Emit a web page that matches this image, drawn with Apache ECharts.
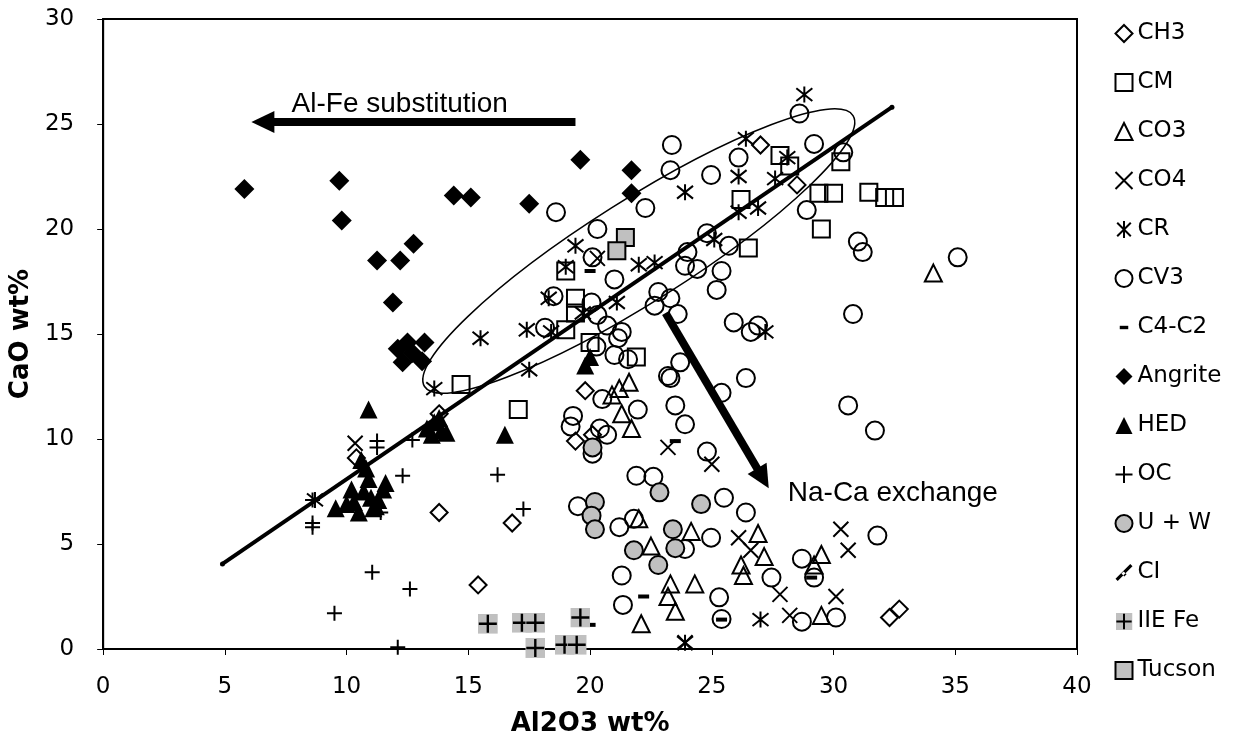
<!DOCTYPE html>
<html>
<head>
<meta charset="utf-8">
<script src="https://cdn.jsdelivr.net/npm/echarts@6/dist/echarts.min.js"></script>
<style>
html, body { margin: 0; padding: 0; background: #fff; }
#chart { width: 1235px; height: 742px; }
</style>
</head>
<body>
<div id="chart"></div>
<script>
// values: [Al2O3 wt%, CaO wt%]
var xTicks = [0, 5, 10, 15, 20, 25, 30, 35, 40];
var yTicks = [0, 5, 10, 15, 20, 25, 30];

var ch3 = [[10.4, 9.1], [13.8, 11.2], [13.8, 6.5], [15.4, 3.05], [16.8, 6.0], [19.4, 9.9], [19.8, 12.3],
    [20.1, 10.2], [27.0, 24.0], [28.5, 22.1], [32.3, 1.5], [32.7, 1.9]];
var cm = [[14.7, 12.6], [17.05, 11.4], [19.0, 18.0], [19.4, 16.7], [19.4, 16.0], [19.0, 15.2], [20.0, 14.6],
    [21.9, 13.9], [26.2, 21.4], [26.5, 19.1], [27.8, 23.5], [28.2, 23.0], [29.4, 21.7], [29.5, 20.0],
    [30.0, 21.7], [30.3, 23.2], [31.45, 21.75], [32.1, 21.5], [32.5, 21.5]];
var co3 = [[20.9, 12.1], [21.2, 12.4], [21.6, 12.7], [21.3, 11.2], [21.7, 10.5], [22.0, 6.2], [22.5, 4.9],
    [23.3, 3.1], [23.2, 2.5], [23.5, 1.8], [22.1, 1.2], [24.15, 5.6], [24.3, 3.1], [26.9, 5.5], [27.15, 4.4],
    [26.2, 4.0], [26.3, 3.5], [29.2, 4.0], [29.5, 4.5], [29.5, 1.6], [34.1, 17.9]];
var co4 = [[10.35, 9.8], [20.3, 18.6], [23.2, 9.6], [25.0, 8.8], [26.1, 5.3], [26.6, 4.7], [27.8, 2.6],
    [28.2, 1.6], [30.3, 5.7], [30.6, 4.7], [30.1, 2.5], [23.9, 0.3]];
var cr = [[8.7, 7.1], [13.6, 12.4], [15.5, 14.8], [17.4, 15.2], [17.5, 13.3], [18.3, 16.7], [18.4, 15.1],
    [19.0, 18.2], [19.4, 19.2], [19.7, 16.0], [21.1, 16.5], [22.0, 18.3], [22.65, 18.4], [23.9, 21.75],
    [25.1, 19.5], [26.1, 20.8], [26.1, 22.5], [26.4, 24.3], [26.9, 21.0], [27.6, 22.4], [28.1, 23.4],
    [28.8, 26.4], [27.2, 15.1], [23.9, 0.3], [27.0, 1.4]];
var cv3 = [[23.36, 24.0], [23.3, 22.8], [24.97, 22.57], [22.27, 21.0], [18.6, 20.8], [20.3, 20.0],
    [20.1, 18.65], [21.0, 17.6], [18.5, 16.8], [20.06, 16.5], [20.3, 15.9], [18.15, 15.3], [20.7, 15.4],
    [21.3, 15.1], [21.15, 14.8], [21.0, 14.0], [21.56, 13.8], [20.26, 14.4], [23.6, 15.95], [23.2, 13.0],
    [24.0, 18.9], [24.4, 18.1], [23.9, 18.25], [22.8, 17.0], [22.65, 16.35], [23.3, 16.7], [24.8, 19.8],
    [25.2, 17.1], [28.6, 25.5], [29.2, 24.05], [30.4, 23.65], [26.1, 23.4], [28.9, 20.9], [25.7, 19.2],
    [25.4, 18.0], [31.0, 19.4], [31.2, 18.9], [35.1, 18.65], [30.8, 15.95], [25.9, 15.55], [26.6, 15.1],
    [26.9, 15.4], [26.4, 12.9], [30.6, 11.6], [31.7, 10.4], [31.8, 5.4], [26.4, 6.5], [28.7, 4.3],
    [29.2, 3.4], [27.45, 3.4], [28.7, 1.3], [30.1, 1.5], [23.3, 12.9], [23.7, 13.65], [23.5, 11.6],
    [23.9, 10.7], [25.4, 12.2], [21.96, 11.4], [20.5, 11.9], [19.3, 11.1], [19.2, 10.6], [20.4, 10.5],
    [20.7, 10.2], [20.1, 9.3], [24.8, 9.4], [21.9, 8.25], [22.6, 8.2], [25.5, 7.2], [19.5, 6.8], [21.2, 5.8],
    [21.8, 6.2], [23.9, 4.76], [24.97, 5.3], [21.3, 3.5], [21.35, 2.1], [25.3, 2.46], [25.4, 1.43]];
var c4c2 = [[20.0, 1.15], [22.2, 2.5], [25.4, 1.4], [20.0, 18.0], [23.5, 9.9], [29.1, 3.4]];
var angrite = [[5.8, 21.9], [9.7, 22.3], [9.8, 20.4], [11.25, 18.5], [12.2, 18.5], [12.75, 19.3],
    [11.9, 16.5], [12.1, 14.3], [12.5, 14.6], [13.2, 14.6], [12.3, 13.65], [13.1, 13.7], [12.7, 14.1],
    [14.4, 21.6], [15.1, 21.5], [17.5, 21.2], [19.6, 23.3], [21.7, 22.8], [21.7, 21.7]];
var hed = [[10.9, 11.4], [16.5, 10.2], [13.3, 10.5], [13.6, 10.8], [13.9, 10.4], [14.1, 10.3], [13.5, 10.2],
    [13.8, 11.0], [9.55, 6.7], [10.2, 7.6], [10.9, 8.1], [11.5, 7.6], [10.5, 6.5], [11.2, 6.8], [10.6, 9.0],
    [10.8, 8.6], [11.0, 7.2], [10.3, 7.0], [11.3, 7.1], [11.6, 7.9], [10.7, 7.5], [11.1, 6.7], [10.0, 6.9],
    [19.8, 13.5], [20.0, 13.9]];
var oc = [[8.6, 5.8], [8.6, 6.0], [8.6, 7.1], [9.5, 1.7], [11.05, 3.65], [12.6, 2.86], [12.1, 0.08],
    [16.2, 8.3], [17.26, 6.67], [12.3, 8.25], [12.7, 9.95], [11.25, 9.9], [11.25, 9.6], [11.4, 6.5]];
var uw = [[20.1, 9.6], [22.85, 7.46], [24.56, 6.9], [20.2, 7.0], [20.06, 6.35], [20.2, 5.7], [23.4, 5.7],
    [21.8, 4.7], [23.5, 4.8], [22.8, 4.0]];
var ci = [[4.9, 4.05], [32.4, 25.8]];
var iieFe = [[15.8, 1.2], [17.2, 1.25], [17.75, 1.25], [17.75, 0.05], [18.95, 0.2], [19.45, 0.2], [19.6, 1.5]];
var tucson = [[21.45, 19.6], [21.1, 18.97]];

// annotations, in data units
var alFeArrow = [[19.4, 25.1], [6.56, 25.1]];
var naCaArrow = [[23.1, 16.0], [27.1, 8.13]];
var alFeText = [7.74, 25.95];
var naCaText = [28.12, 7.40];
var ellipseEnds = [[13.2, 12.5], [30.8, 25.4]];

var SYM_X = 'path://M0,0L10,10M10,0L0,10';
var SYM_STAR = 'path://M1,1L9,9M9,1L1,9M5,0L5,10';
var SYM_PLUS = 'path://M5,0L5,10M0,5L10,5';
var iieSvg = "<svg xmlns='http://www.w3.org/2000/svg' width='20' height='20'>" +
    "<rect width='20' height='20' fill='#c0c0c0'/>" +
    "<path d='M10 1V19M1 10H19' stroke='#000' stroke-width='2.4'/></svg>";
var SYM_IIE = 'image://data:image/svg+xml;charset=utf-8,' + encodeURIComponent(iieSvg);

var hollow = { color: 'none', borderColor: '#000', borderWidth: 2, opacity: 1 };
var solid = { color: '#000', opacity: 1 };
var grey = { color: '#c0c0c0', borderColor: '#000', borderWidth: 2, opacity: 1 };

function scatter(name, data, symbol, size, style) {
    return {
        name: name,
        type: 'scatter',
        data: data,
        symbol: symbol,
        symbolSize: size,
        itemStyle: style,
        emphasis: { disabled: true }
    };
}

var chart = echarts.init(document.getElementById('chart'));
var font = 'DejaVu Sans';

var option = {
    animation: false,
    backgroundColor: '#fff',
    grid: {
        left: 100, right: 158, top: 19, bottom: 92,
        show: true, borderColor: '#000', borderWidth: 2
    },
    xAxis: {
        type: 'value', min: 0, max: 40, interval: 5,
        name: 'Al2O3 wt%', nameLocation: 'middle', nameGap: 62,
        nameTextStyle: { fontFamily: font, fontWeight: 'bold', fontSize: 26, color: '#000' },
        axisLine: { lineStyle: { color: '#000', width: 2 } },
        axisTick: { show: true, length: 6, lineStyle: { color: '#000', width: 1 } },
        axisLabel: { fontFamily: font, fontSize: 23, color: '#000', margin: 27,
            formatter: function (v) { return xTicks.indexOf(v) >= 0 ? String(v) : ''; } },
        splitLine: { show: false }
    },
    yAxis: {
        type: 'value', min: 0, max: 30, interval: 5,
        name: 'CaO wt%', nameLocation: 'middle', nameGap: 64,
        nameTextStyle: { fontFamily: font, fontWeight: 'bold', fontSize: 26, color: '#000' },
        axisLine: { show: true, lineStyle: { color: '#000', width: 2 } },
        axisTick: { show: true, length: 6, lineStyle: { color: '#000', width: 1 } },
        axisLabel: { fontFamily: font, fontSize: 23, color: '#000', margin: 29,
            formatter: function (v) { return yTicks.indexOf(v) >= 0 ? String(v) : ''; } },
        splitLine: { show: false }
    },
    legend: {
        orient: 'vertical',
        left: 1108, top: 17,
        itemWidth: 17, itemHeight: 17, itemGap: 26,
        textStyle: { fontFamily: font, fontSize: 23, color: '#000', lineHeight: 22 },
        selectedMode: false,
        data: ['CH3', 'CM', 'CO3', 'CO4', 'CR', 'CV3',
            { name: 'C4-C2', icon: 'path://M0,0M20,20M5,8h10v4h-10z' },
            'Angrite', 'HED', 'OC', 'U + W',
            { name: 'CI', icon: 'path://M0,20L3,23L23,3L20,0ZM8,13L11,10L15,14L12,17Z' },
            'IIE Fe', 'Tucson']
    },
    series: [
        scatter('CH3', ch3, 'diamond', 17, hollow),
        scatter('CM', cm, 'rect', 17, hollow),
        scatter('CO3', co3, 'triangle', 17, hollow),
        scatter('CO4', co4, SYM_X, 15, hollow),
        scatter('CR', cr, SYM_STAR, 16, hollow),
        scatter('CV3', cv3, 'circle', 18, hollow),
        scatter('C4-C2', c4c2, 'rect', [11, 4], solid),
        scatter('Angrite', angrite, 'diamond', 20, solid),
        scatter('HED', hed, 'triangle', 18, solid),
        scatter('OC', oc, SYM_PLUS, 15, hollow),
        scatter('U + W', uw, 'circle', 18, grey),
        {
            name: 'CI',
            type: 'line',
            data: ci,
            symbol: 'circle',
            symbolSize: 5,
            itemStyle: { color: '#000' },
            lineStyle: { color: '#000', width: 4 },
            emphasis: { disabled: true },
            markLine: {
                silent: true,
                symbol: ['none', 'triangle'],
                symbolSize: [22, 23],
                label: { show: false },
                emphasis: { disabled: true },
                lineStyle: { color: '#000', width: 8, type: 'solid', opacity: 1 },
                data: [
                    [{ coord: alFeArrow[0] }, { coord: alFeArrow[1] }],
                    [{ coord: naCaArrow[0] }, { coord: naCaArrow[1] }]
                ]
            }
        },
        scatter('IIE Fe', iieFe, SYM_IIE, 20, { opacity: 1 }),
        scatter('Tucson', tucson, 'rect', 17, grey)
    ]
};
chart.setOption(option);

// ellipse and arrow captions, placed through the chart's own scales
function px(p) { return chart.convertToPixel({ gridIndex: 0 }, p); }
var a = px(ellipseEnds[0]), b = px(ellipseEnds[1]);
var t1 = px(alFeText), t2 = px(naCaText);
chart.setOption({
    graphic: [
        {
            type: 'ellipse', silent: true, z: 50,
            x: (a[0] + b[0]) / 2, y: (a[1] + b[1]) / 2,
            rotation: Math.atan2(a[1] - b[1], b[0] - a[0]),
            shape: { cx: 0, cy: 0, rx: Math.hypot(b[0] - a[0], b[1] - a[1]) / 2, ry: 51 },
            style: { fill: 'none', stroke: '#000', lineWidth: 1.5 }
        },
        {
            type: 'text', silent: true, z: 50, x: t1[0], y: t1[1],
            style: { text: 'Al-Fe substitution', fill: '#000', font: '28px "Liberation Sans"',
                textAlign: 'left', textVerticalAlign: 'middle' }
        },
        {
            type: 'text', silent: true, z: 50, x: t2[0], y: t2[1],
            style: { text: 'Na-Ca exchange', fill: '#000', font: '28px "Liberation Sans"',
                textAlign: 'left', textVerticalAlign: 'middle' }
        }
    ]
});

window.addEventListener('resize', function () {
    chart.resize();
});
</script>
</body>
</html>
